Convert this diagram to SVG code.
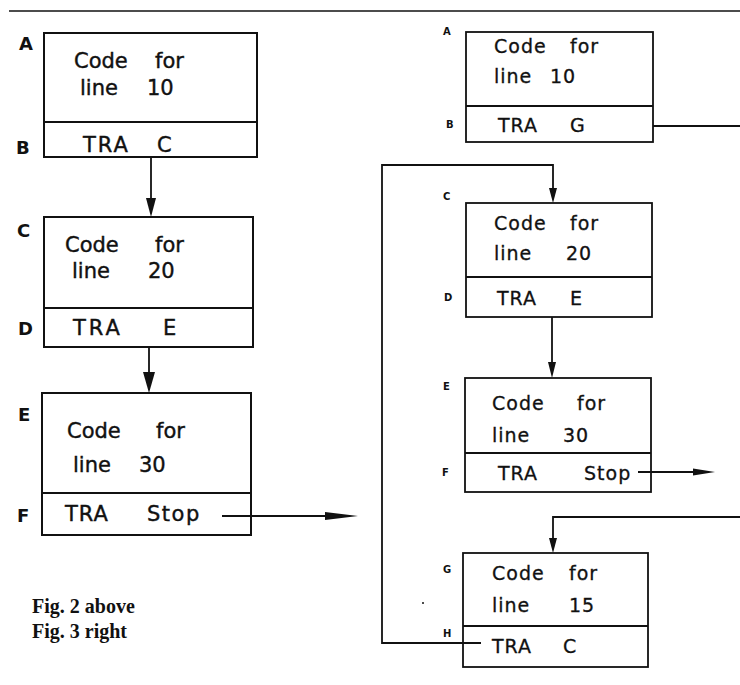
<svg xmlns="http://www.w3.org/2000/svg" width="740" height="685" viewBox="0 0 740 685">
<style>
.bx{fill:none;stroke:#111;stroke-width:2}
.bx2{fill:none;stroke:#111;stroke-width:1.8}
.t{font-family:"DejaVu Sans","Liberation Sans",sans-serif;font-size:21px;fill:#111;stroke:#111;stroke-width:0.4}
.t2{font-family:"DejaVu Sans","Liberation Sans",sans-serif;font-size:19px;letter-spacing:1px;fill:#111;stroke:#111;stroke-width:0.3}
.lb{font-family:"DejaVu Sans","Liberation Sans",sans-serif;font-size:18px;font-weight:bold;fill:#111}
.lb2{font-family:"DejaVu Sans","Liberation Sans",sans-serif;font-size:10px;font-weight:bold;fill:#111}
.cap{font-family:"Liberation Serif","Times New Roman",serif;font-size:20px;font-weight:bold;fill:#111}
.ln{fill:none;stroke:#111;stroke-width:1.8}
.ah{fill:#111;stroke:none}
</style>
<line x1="9" y1="11" x2="740" y2="11" stroke="#111" stroke-width="1.5"/>

<!-- Left column (Fig. 2) -->
<g id="L-AB">
<rect class="bx" x="44" y="33" width="213" height="124"/>
<line class="bx" x1="44" y1="122" x2="257" y2="122"/>
<text class="lb" x="19" y="50">A</text>
<text class="lb" x="16" y="154">B</text>
<text class="t" x="74" y="68">Code</text><text class="t" x="155" y="68">for</text>
<text class="t" x="80" y="95">line</text><text class="t" x="147" y="95">10</text>
<text class="t" x="83" y="152" letter-spacing="2">TRA</text><text class="t" x="157" y="152">C</text>
</g>
<g id="L-CD">
<rect class="bx" x="44" y="217" width="209" height="130"/>
<line class="bx" x1="44" y1="308" x2="253" y2="308"/>
<text class="lb" x="17" y="237">C</text>
<text class="lb" x="18" y="335">D</text>
<text class="t" x="65" y="252">Code</text><text class="t" x="155" y="252">for</text>
<text class="t" x="72" y="278">line</text><text class="t" x="148" y="278">20</text>
<text class="t" x="73" y="335" letter-spacing="3">TRA</text><text class="t" x="163" y="335">E</text>
</g>
<g id="L-EF">
<rect class="bx" x="42" y="393" width="209" height="142"/>
<line class="bx" x1="42" y1="493" x2="251" y2="493"/>
<text class="lb" x="18" y="421">E</text>
<text class="lb" x="17" y="522">F</text>
<text class="t" x="67" y="438">Code</text><text class="t" x="156" y="438">for</text>
<text class="t" x="73" y="472">line</text><text class="t" x="139" y="472">30</text>
<text class="t" x="65" y="521" letter-spacing="1">TRA</text><text class="t" x="147" y="521" letter-spacing="1.5">Stop</text>
</g>

<!-- Right column (Fig. 3) -->
<g id="R-AB">
<rect class="bx2" x="466" y="32" width="187" height="110"/>
<line class="bx2" x1="466" y1="106" x2="653" y2="106"/>
<text class="lb2" x="443" y="35">A</text>
<text class="lb2" x="446" y="128">B</text>
<text class="t2" x="494" y="53">Code</text><text class="t2" x="570" y="53">for</text>
<text class="t2" x="494" y="83">line</text><text class="t2" x="550" y="83">10</text>
<text class="t2" x="498" y="132" letter-spacing="2">TRA</text><text class="t2" x="570" y="132">G</text>
</g>
<g id="R-CD">
<rect class="bx2" x="466" y="203" width="186" height="114"/>
<line class="bx2" x1="466" y1="277" x2="652" y2="277"/>
<text class="lb2" x="443" y="200">C</text>
<text class="lb2" x="444" y="301">D</text>
<text class="t2" x="494" y="230">Code</text><text class="t2" x="570" y="230">for</text>
<text class="t2" x="494" y="260">line</text><text class="t2" x="566" y="260">20</text>
<text class="t2" x="497" y="305" letter-spacing="2">TRA</text><text class="t2" x="570" y="305">E</text>
</g>
<g id="R-EF">
<rect class="bx2" x="465" y="378" width="186" height="114"/>
<line class="bx2" x1="465" y1="453" x2="651" y2="453"/>
<text class="lb2" x="443" y="390">E</text>
<text class="lb2" x="442" y="476">F</text>
<text class="t2" x="492" y="410">Code</text><text class="t2" x="577" y="410">for</text>
<text class="t2" x="492" y="442">line</text><text class="t2" x="563" y="442">30</text>
<text class="t2" x="498" y="480" letter-spacing="2">TRA</text><text class="t2" x="584" y="480" letter-spacing="0">Stop</text>
</g>
<g id="R-GH">
<rect class="bx2" x="463" y="553" width="185" height="114"/>
<line class="bx2" x1="463" y1="626" x2="648" y2="626"/>
<text class="lb2" x="443" y="573">G</text>
<text class="lb2" x="443" y="637">H</text>
<text class="t2" x="492" y="580">Code</text><text class="t2" x="569" y="580">for</text>
<text class="t2" x="492" y="612" letter-spacing="2.5">line</text><text class="t2" x="569" y="612">15</text>
<text class="t2" x="492" y="653" letter-spacing="2">TRA</text><text class="t2" x="563" y="653">C</text>
</g>

<g id="connectors">
<line class="ln" x1="151" y1="157" x2="151" y2="200"/>
<polygon class="ah" points="146,198 156,198 151,217"/>
<line class="ln" x1="149" y1="347" x2="149" y2="374"/>
<polygon class="ah" points="143,372 155,372 149,393"/>
<line class="ln" x1="222" y1="516" x2="330" y2="516"/>
<polygon class="ah" points="325,512 358,516 325,520"/>

<polyline class="ln" points="653,126 740,126"/>
<polyline class="ln" points="481,643 382,643 382,165 553,165 553,190"/>
<polygon class="ah" points="549,188 557,188 553,203"/>
<line class="ln" x1="552" y1="317" x2="552" y2="364"/>
<polygon class="ah" points="548,362 556,362 552,378"/>
<line class="ln" x1="638" y1="472" x2="695" y2="472"/>
<polygon class="ah" points="693,468.5 715,472 693,475.5"/>
<polyline class="ln" points="740,517 553,517 553,540"/>
<polygon class="ah" points="549,538 557,538 553,553"/>
</g>
<circle cx="423" cy="603" r="1" fill="#111"/>

<text class="cap" x="32" y="613">Fig. 2 above</text>
<text class="cap" x="32" y="638">Fig. 3 right</text>
</svg>
